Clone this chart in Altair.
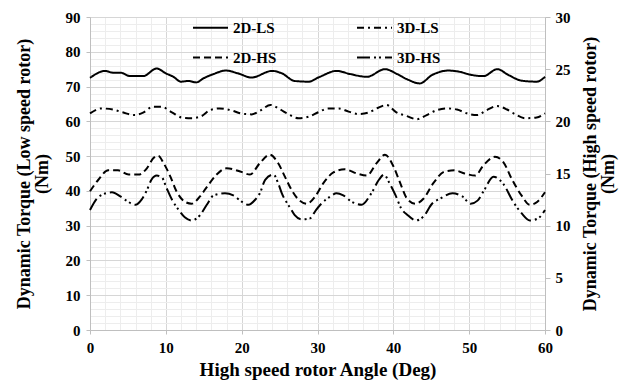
import altair as alt
import pandas as pd

# ---- data ----
angle_2d_ls = [0, 2, 3, 4, 5.3, 7, 8.8, 10, 11, 12, 13, 14, 15, 16.3, 17.9, 19.5, 21.3, 24, 25.3, 27,
               28.8, 30.3, 32.5, 34.3, 36.5, 38.9, 40.5, 42, 43.5, 45.1, 47.3, 48.6, 50.4, 51.9, 53.7,
               55.2, 56.9, 58.9, 60]
torque_2d_ls = [72.5, 74.5, 74.0, 74.0, 73.0, 73.0, 75.2, 73.8, 72.8, 71.4, 71.6, 71.2, 72.4, 73.6, 74.6,
                73.8, 72.6, 74.5, 73.8, 71.6, 71.4, 72.8, 74.5, 73.6, 72.8, 75.0, 73.6, 71.9, 70.9, 73.3,
                74.6, 74.3, 73.3, 73.0, 75.0, 73.3, 71.7, 71.4, 72.8]

angle_3d_ls = [0, 1.5, 3, 4.3, 5.8, 7, 8.3, 9.4, 10.8, 12.1, 13.4, 14.7, 15.8, 17.1, 18.6, 19.9, 21.3,
               22.4, 23.8, 25.1, 26.2, 27.5, 28.8, 30.1, 31.4, 32.8, 34.1, 35.4, 36.7, 37.8, 39.1, 40.4,
               41.8, 43.1, 44.4, 45.7, 47.1, 48.4, 49.7, 51, 52.3, 53.7, 55, 56.1, 57.4, 58.9, 60]
torque_3d_ls = [62.3, 63.7, 63.4, 62.6, 61.8, 62.5, 64.2, 64.2, 62.6, 61.1, 60.9, 61.5, 63.2, 63.7, 63.2,
                62.3, 62.0, 63.0, 64.7, 63.4, 62.0, 60.9, 61.3, 62.6, 63.7, 63.7, 62.8, 62.1, 62.5, 63.7,
                64.7, 62.6, 61.5, 60.6, 61.8, 63.2, 63.7, 63.4, 62.3, 61.8, 63.2, 64.4, 63.4, 62.0, 60.9,
                61.1, 62.3]

angle_2d_hs = [0, 1.1, 2.4, 3.7, 5.1, 6.4, 7.5, 8.4, 9.0, 9.7, 10.6, 11.4, 12.5, 13.4, 14.5, 15.4, 16.7,
               18.0, 19.8, 21.1, 22.4, 23.7, 24.8, 25.7, 26.6, 27.5, 28.6, 29.7, 30.8, 32.1, 33.6, 35.2,
               36.5, 37.8, 38.9, 40.0, 40.9, 41.8, 42.9, 44.0, 45.3, 46.8, 48.1, 49.4, 50.8, 51.9, 53.4,
               54.5, 55.6, 56.9, 58.0, 59.0, 60]
torque_2d_hs = [13.3, 14.4, 15.3, 15.3, 14.9, 14.9, 15.5, 16.5, 16.7, 16.0, 14.7, 13.3, 12.3, 12.1, 12.8,
                13.7, 14.9, 15.5, 15.2, 14.9, 16.0, 16.8, 16.0, 14.7, 13.4, 12.5, 12.1, 12.8, 14.1, 15.1,
                15.4, 15.0, 14.8, 16.0, 16.8, 15.7, 14.1, 12.6, 12.1, 12.6, 14.1, 15.2, 15.3, 15.0, 14.8,
                15.8, 16.6, 16.1, 14.5, 12.9, 12.0, 12.3, 13.2]

angle_3d_hs = [0, 0.9, 1.7, 2.9, 4.0, 4.8, 6.0, 6.8, 7.5, 8.1, 8.8, 9.5, 10.1, 10.8, 11.7, 12.5, 13.4,
               14.5, 15.4, 16.3, 17.8, 18.9, 20.0, 20.9, 21.8, 22.4, 23.1, 24.2, 24.8, 25.3, 26.4, 27.0,
               27.9, 29.0, 29.8, 30.5, 31.7, 32.5, 33.4, 34.5, 35.8, 37.1, 38.1, 38.8, 39.4, 40.3, 41.0,
               41.9, 43.0, 44.0, 45.1, 46.2, 47.8, 49.1, 50.2, 51.1, 51.9, 53.2, 54.5, 55.8, 56.9, 58.0,
               59.1, 60]
torque_3d_hs = [11.5, 12.6, 13.0, 13.2, 12.8, 12.4, 12.0, 12.5, 13.4, 14.4, 14.8, 14.6, 13.6, 12.5, 11.5,
                10.8, 10.5, 11.0, 12.0, 12.9, 13.1, 12.9, 12.3, 12.0, 12.5, 13.1, 14.4, 14.9, 14.1, 13.1,
                11.7, 11.0, 10.6, 10.7, 11.5, 12.1, 12.8, 13.1, 12.9, 12.3, 12.0, 13.1, 14.4, 14.9, 14.2,
                12.9, 11.7, 11.0, 10.5, 10.9, 12.1, 12.6, 13.1, 12.8, 12.1, 12.4, 13.3, 14.7, 14.0, 12.3,
                11.2, 10.5, 10.7, 11.5]

# legend fills column by column: first column 2D-LS / 2D-HS, second 3D-LS / 3D-HS
series_order = ["2D-LS", "2D-HS", "3D-LS", "3D-HS"]

rows = []
for name, xs, ys, grp in [
    ("2D-LS", angle_2d_ls, torque_2d_ls, "LS"),
    ("3D-LS", angle_3d_ls, torque_3d_ls, "LS"),
    ("2D-HS", angle_2d_hs, torque_2d_hs, "HS"),
    ("3D-HS", angle_3d_hs, torque_3d_hs, "HS"),
]:
    for x, y in zip(xs, ys):
        rows.append({"angle": x, "torque": y, "series": name, "group": grp})
df = pd.DataFrame(rows)

FONT = "Liberation Serif"
GRID_MAJOR = "#d6d6d6"
GRID_MINOR = "#ededed"
AXIS_GRAY = "#bfbfbf"

dash_range = [[1, 0], [7, 4], [7, 4, 2, 4], [13, 4, 2, 3, 2, 4]]

x_enc = alt.X(
    "angle:Q",
    scale=alt.Scale(domain=[0, 60], nice=False, zero=False),
    axis=alt.Axis(
        values=list(range(0, 61, 2)),
        labelExpr="datum.value % 10 === 0 ? datum.label : ''",
        gridColor={"condition": {"test": "datum.value % 10 === 0", "value": GRID_MAJOR}, "value": GRID_MINOR},
        tickOpacity={"condition": {"test": "datum.value % 10 === 0", "value": 1}, "value": 0},
        title="High speed rotor Angle (Deg)",
        tickSize=4,
        labelPadding=6,
        titlePadding=5,
        titleFontSize=19,
        labelFlush=False,
    ),
)

dash_enc = alt.StrokeDash(
    "series:N",
    scale=alt.Scale(domain=series_order, range=dash_range),
    legend=alt.Legend(
        title=None,
        orient="none",
        legendX=102,
        legendY=-8,
        columns=2,
        columnPadding=76,
        rowPadding=3,
        symbolType="stroke",
        symbolSize=1225,
        symbolStrokeWidth=2,
        symbolStrokeColor="black",
        labelFont=FONT,
        labelFontSize=15,
        labelFontWeight="bold",
        labelColor="black",
        labelOffset=4,
    ),
)

base = alt.Chart(df).mark_line(color="black", strokeWidth=2, interpolate="monotone")

ls = base.transform_filter(alt.datum.group == "LS").encode(
    x=x_enc,
    y=alt.Y(
        "torque:Q",
        scale=alt.Scale(domain=[0, 90], nice=False),
        axis=alt.Axis(
            values=list(range(0, 91, 2)),
            labelExpr="datum.value % 10 === 0 ? datum.label : ''",
            gridColor={"condition": {"test": "datum.value % 10 === 0", "value": GRID_MAJOR}, "value": GRID_MINOR},
            tickOpacity={"condition": {"test": "datum.value % 10 === 0", "value": 1}, "value": 0},
            title=["Dynamic Torque (Low speed rotor)", "(Nm)"],
            tickSize=4,
            labelPadding=6,
            titlePadding=14,
            titleFontSize=18,
            titleLineHeight=18,
        ),
    ),
    strokeDash=dash_enc,
    detail="series:N",
)

hs = base.transform_filter(alt.datum.group == "HS").encode(
    x=x_enc,
    y=alt.Y(
        "torque:Q",
        scale=alt.Scale(domain=[0, 30], nice=False),
        axis=alt.Axis(
            orient="right",
            values=[0, 5, 10, 15, 20, 25, 30],
            grid=False,
            title=["Dynamic Torque (High speed rotor)", "(Nm)"],
            titleAngle=270,
            tickSize=5,
            labelPadding=5,
            titlePadding=11,
            titleFontSize=18,
            titleLineHeight=18,
        ),
    ),
    strokeDash=dash_enc,
    detail="series:N",
)

chart = (
    alt.layer(ls, hs)
    .resolve_scale(y="independent")
    .properties(
        width=455,
        height=313,
        autosize="none",
        padding={"left": 90, "top": 17, "right": 82, "bottom": 53},
    )
    .configure_view(stroke=None)
    .configure_axis(
        labelFont=FONT,
        titleFont=FONT,
        labelFontSize=15,
        labelFontWeight="bold",
        titleFontWeight="bold",
        labelColor="black",
        titleColor="black",
        domainColor=AXIS_GRAY,
        tickColor=AXIS_GRAY,
    )
)

chart.save("out.html", embed_options={"renderer": "svg", "actions": False})
